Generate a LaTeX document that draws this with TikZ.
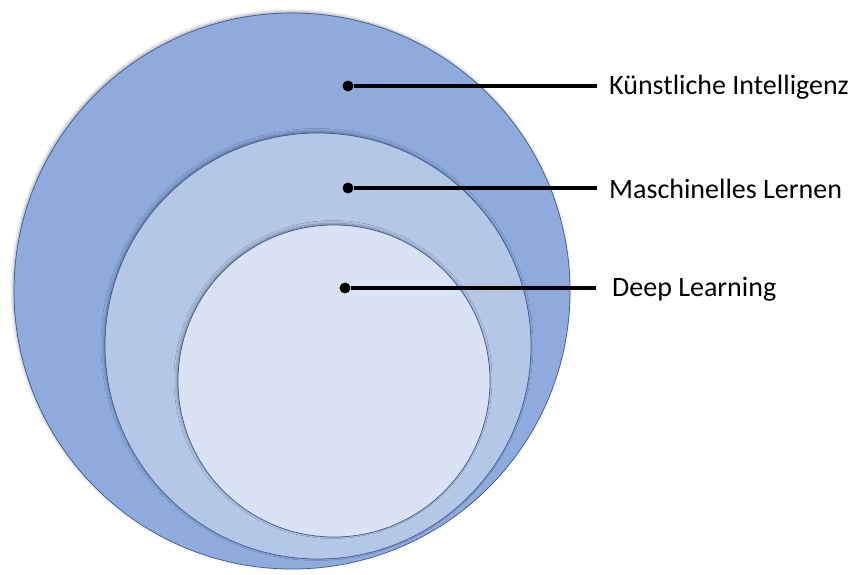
\documentclass[tikz,border=0pt]{standalone}
\usepackage{fontspec}
\setmainfont{Carlito}
\usetikzlibrary{shadows.blur}
\definecolor{kiblue}{HTML}{8FAADC}
\definecolor{mlblue}{HTML}{B4C7E7}
\definecolor{dlblue}{HTML}{DAE3F3}
\definecolor{rimblue}{HTML}{3A5A92}
\tikzset{
  ring/.style = {draw = rimblue, line width = 0.7pt,
    blur shadow = {shadow xshift = -1pt, shadow yshift = 1.5pt, shadow blur radius = 3pt, shadow opacity = 35}},
  dot/.style = {circle, fill = black, inner sep = 0pt, minimum size = 11pt},
  label/.style = {anchor = west, inner sep = 0pt, font = \fontsize{28}{34}\selectfont}
}
\begin{document}
\begin{tikzpicture}[x = 1pt, y = -1pt]
            \useasboundingbox (0,0) rectangle (859,574);
            \draw[ring, fill = kiblue] (292,291) circle (278pt);
            \draw[ring, fill = mlblue] (318,346) circle (213pt);
            \draw[ring, fill = dlblue] (334,381) circle (156pt);
            \node[dot] (KI) at (348,86) {};
            \node[dot] (ML) at (348,188) {};
            \node[dot] (DL) at (345,288) {};
            \node[label] (KItext) at (609,87) {Künstliche Intelligenz};
            \node[label] (MLtext) at (609,189) {Maschinelles Lernen};
            \node[label] (DLtext) at (612,289) {Deep Learning};
            \draw[line width = 4pt] (KI) -- ++(249,0);
            \draw[line width = 4pt] (ML) -- ++(249,0);
            \draw[line width = 4pt] (DL) -- ++(251,0);
        \end{tikzpicture}
\end{document}
